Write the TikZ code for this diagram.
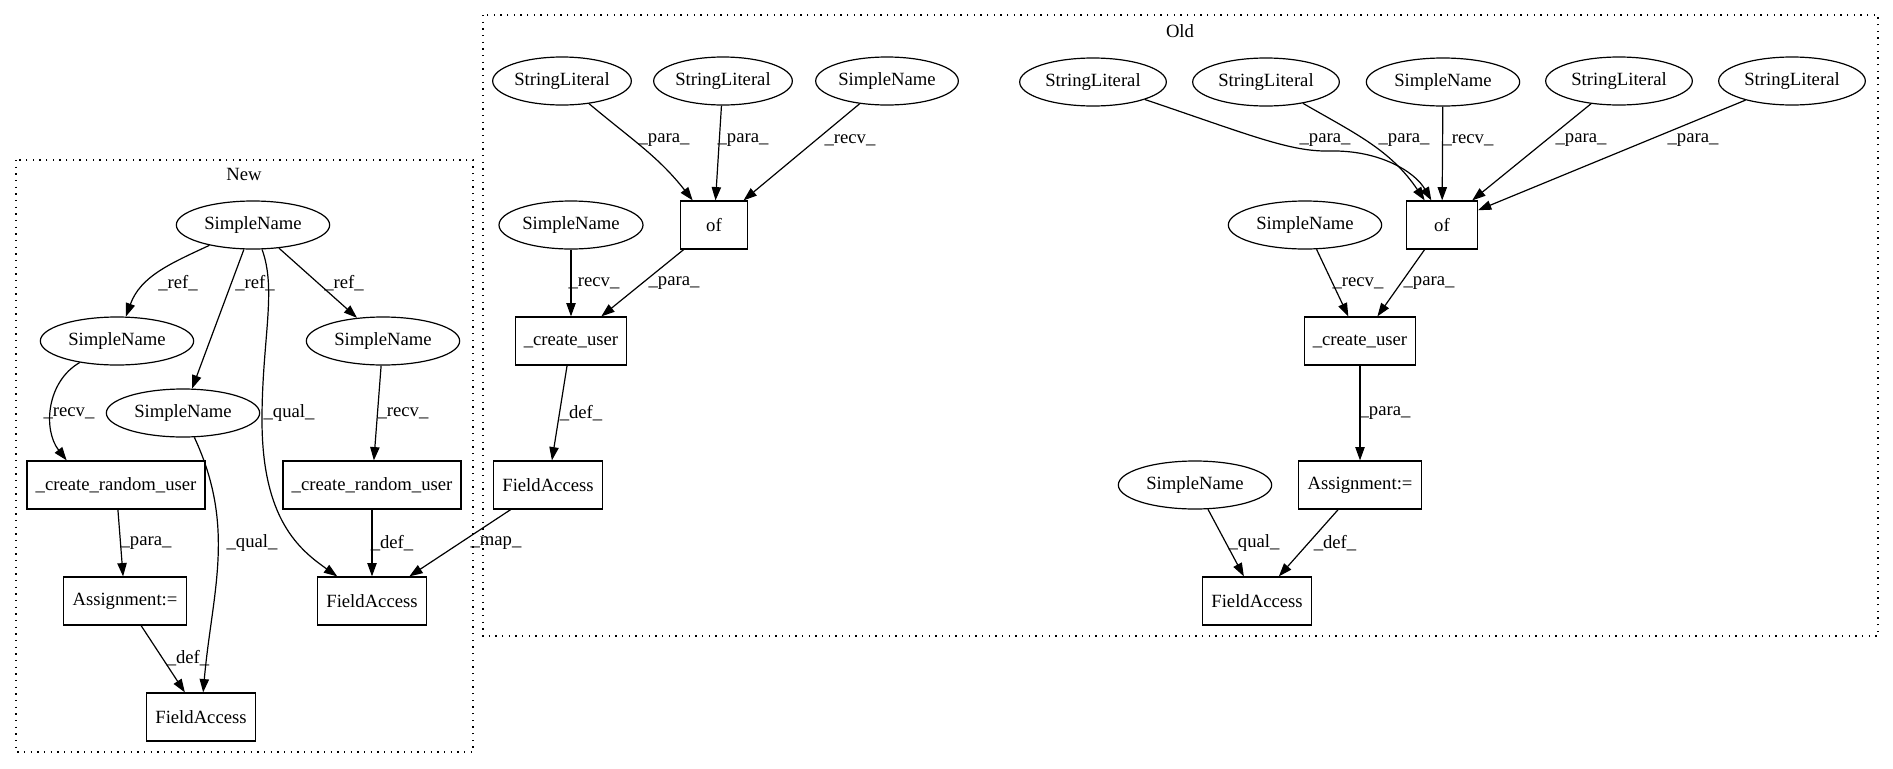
\documentclass[tikz,border=0pt]{standalone}
\usepackage{fontspec}
\setmainfont{Liberation Serif}
\usetikzlibrary{shapes.geometric,arrows.meta,positioning}

\begin{document}
\begin{tikzpicture}[x=0.75pt,y=0.75pt,
		every node/.style={font=\fontsize{14pt}{16pt}\selectfont},
		ast/.style={draw,ellipse,line width=0.9pt,minimum width=115pt,minimum height=36pt,inner sep=1pt},
		lit/.style={ast,minimum width=110pt},
		op/.style={draw,rectangle,line width=0.9pt,minimum height=36pt,inner xsep=6.5pt},
		edge/.style={-{Triangle[length=10pt,width=7pt]},line width=0.9pt},
		elbl/.style={inner sep=0pt},
		cluster/.style={line width=0.9pt,dash pattern=on 1pt off 4pt}]
				\useasboundingbox (0,0) rectangle (1893,-768);
				\draw [cluster] (16,-160) rectangle (473,-752);
				\draw [cluster] (483,-15) rectangle (1878,-636);
				\node (newlbl) at (244,-174) {New};
				\node (oldlbl) at (1180,-31) {Old};

				\node [ast] (nSN) at (253,-225) {SimpleName};
				\node [ast] (nSNl) at (117,-341) {SimpleName};
				\node [ast] (nSNm) at (183,-413) {SimpleName};
				\node [ast] (nSNr) at (383,-341) {SimpleName};
				\node [op] (nCRl) at (116,-485) {\_create\_random\_user};
				\node [op] (nCRr) at (372,-485) {\_create\_random\_user};
				\node [op] (nAsg) at (125,-601) {Assignment:=};
				\node [op] (nFAr) at (372,-601) {FieldAccess};
				\node [op] (nFAb) at (201,-717) {FieldAccess};

				\node [lit,minimum width=104pt] (oSL1l) at (562,-81) {StringLiteral};
				\node [lit,minimum width=104pt] (oSL2l) at (723,-81) {StringLiteral};
				\node [ast,minimum width=107pt] (oSNl) at (887,-81) {SimpleName};
				\node [op,minimum width=50pt] (oOfl) at (714,-225) {of};
				\node [ast,minimum width=108pt] (oSN2l) at (571,-225) {SimpleName};
				\node [op] (oCUl) at (571,-341) {\_create\_user};
				\node [op] (oFAl) at (548,-485) {FieldAccess};

				\node [lit] (oSL1) at (1093,-82) {StringLiteral};
				\node [lit] (oSL2) at (1266,-82) {StringLiteral};
				\node [ast] (oSN) at (1443,-82) {SimpleName};
				\node [lit] (oSL3) at (1619,-81) {StringLiteral};
				\node [lit] (oSL4) at (1792,-81) {StringLiteral};
				\node [op,minimum width=53pt] (oOf) at (1442,-225) {of};
				\node [ast] (oSN2) at (1305,-225) {SimpleName};
				\node [op] (oCU) at (1360,-341) {\_create\_user};
				\node [op] (oAsg) at (1360,-485) {Assignment:=};
				\node [ast] (oSN3) at (1195,-485) {SimpleName};
				\node [op] (oFA) at (1257,-601) {FieldAccess};

				\draw [edge] (nSN) to[out=-155,in=70] (nSNl) node [elbl] at (178,-283) {\_ref\_};
				\draw [edge] (nSN) -- (nSNm) node [elbl] at (255,-283) {\_ref\_};
				\draw [edge] (nSN) -- (nSNr) node [elbl] at (344,-283) {\_ref\_};
				\draw [edge] (nSN) .. controls (277,-290) and (262,-340) .. (262,-420) .. controls (262,-520) and (300,-550) .. (nFAr) node [elbl] at (289,-413) {\_qual\_};
				\draw [edge] (nSNl) to[out=-150,in=128] ([xshift=-37pt]nCRl.north) node [elbl] at (69,-413) {\_recv\_};
				\draw [edge] (nSNm) to[out=-65,in=85] (nFAb) node [elbl] at (252,-543) {\_qual\_};
				\draw [edge] (nSNr) -- (nCRr) node [elbl] at (403,-413) {\_recv\_};
				\draw [edge] (nCRl) -- (nAsg) node [elbl] at (146,-543) {\_para\_};
				\draw [edge] (nCRr) -- (nFAr) node [elbl] at (392,-543) {\_def\_};
				\draw [edge] (nAsg) -- (nFAb) node [elbl] at (188,-658) {\_def\_};
				\draw [edge] (oFAl) -- (nFAr) node [elbl] at (496,-543) {\_map\_};

				\draw [edge] (oSL1l) to[out=-40,in=128] ([xshift=-16pt]oOfl.north) node [elbl] at (664,-140) {\_para\_};
				\draw [edge] (oSL2l) -- (oOfl) node [elbl] at (743,-140) {\_para\_};
				\draw [edge] (oSNl) -- (oOfl) node [elbl] at (850,-140) {\_recv\_};
				\draw [edge] (oSN2l) -- (oCUl) node [elbl] at (594,-283) {\_recv\_};
				\draw [edge] (oOfl) -- (oCUl) node [elbl] at (674,-283) {\_para\_};
				\draw [edge] (oCUl) -- (oFAl) node [elbl] at (581,-413) {\_def\_};

				\draw [edge] (oSL1) .. controls (1250,-135) and (1290,-152) .. (1330,-151) .. controls (1380,-150) and (1415,-172) .. ([xshift=-8pt]oOf.north) node [elbl] at (1325,-140) {\_para\_};
				\draw [edge] (oSL2) to[out=-30,in=124] ([xshift=-13pt]oOf.north) node [elbl] at (1404,-140) {\_para\_};
				\draw [edge] (oSN) -- (oOf) node [elbl] at (1468,-140) {\_recv\_};
				\draw [edge] (oSL3) -- (oOf) node [elbl] at (1581,-140) {\_para\_};
				\draw [edge] (oSL4) -- (oOf) node [elbl] at (1693,-140) {\_para\_};
				\draw [edge] (oSN2) -- (oCU) node [elbl] at (1358,-283) {\_recv\_};
				\draw [edge] (oOf) -- (oCU) node [elbl] at (1429,-283) {\_para\_};
				\draw [edge] (oCU) -- (oAsg) node [elbl] at (1385,-413) {\_para\_};
				\draw [edge] (oSN3) -- (oFA) node [elbl] at (1254,-543) {\_qual\_};
				\draw [edge] (oAsg) -- (oFA) node [elbl] at (1335,-543) {\_def\_};
\end{tikzpicture}
\end{document}
